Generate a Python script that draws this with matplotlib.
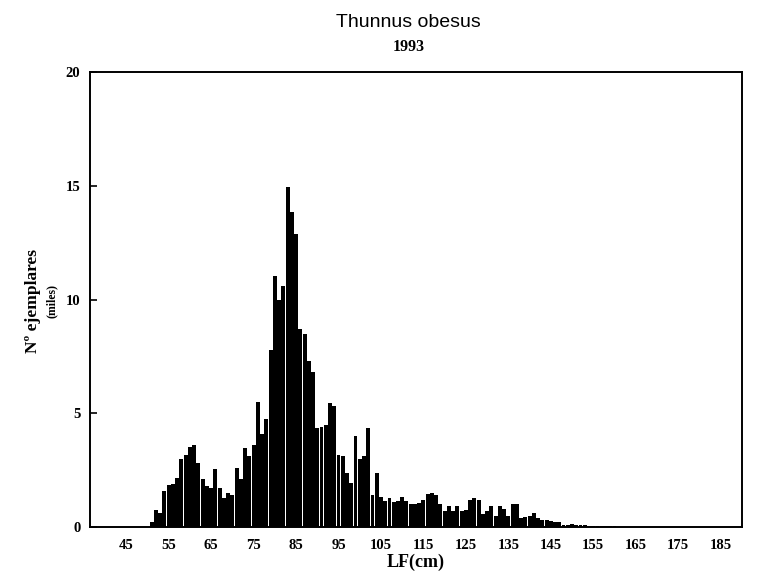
import numpy as np
import matplotlib
matplotlib.use("Agg")
import matplotlib.pyplot as plt

# ================= DATA =================
# length class (cm) and number of fish (thousands)
LENGTHS = list(range(51, 161))
COUNTS = [
    0.2, 0.75, 0.6, 1.6, 1.85, 1.9, 2.15, 3.0, 3.15, 3.5,      # 51-60
    3.6, 2.8, 2.1, 1.8, 1.7, 2.55, 1.7, 1.25, 1.5, 1.4,        # 61-70
    2.6, 2.1, 3.45, 3.1, 3.6, 5.5, 4.1, 4.75, 7.8, 11.05,      # 71-80
    10.0, 10.6, 14.95, 13.85, 12.9, 8.7, 8.5, 7.3, 6.8, 4.35,  # 81-90
    4.4, 4.5, 5.45, 5.3, 3.15, 3.1, 2.35, 1.95, 4.0, 3.0,      # 91-100
    3.1, 4.35, 1.4, 2.35, 1.3, 1.15, 1.25, 1.1, 1.15, 1.3,     # 101-110
    1.15, 1.0, 1.0, 1.05, 1.2, 1.45, 1.5, 1.4, 1.0, 0.7,       # 111-120
    0.9, 0.7, 0.9, 0.7, 0.75, 1.2, 1.25, 1.2, 0.55, 0.7,       # 121-130
    0.9, 0.5, 0.9, 0.8, 0.5, 1.0, 1.0, 0.4, 0.45, 0.5,         # 131-140
    0.6, 0.4, 0.3, 0.3, 0.25, 0.2, 0.2, 0.1, 0.1, 0.12,        # 141-150
    0.08, 0.1, 0.1, 0.06, 0.05, 0.05, 0.03, 0.03, 0.02, 0.02,  # 151-160
]
X_TICKS = list(range(45, 186, 10))
Y_TICKS = [0, 5, 10, 15, 20]

TITLE = "Thunnus obesus"
SUBTITLE = "1993"
SERIF = "Liberation Serif"
SANS = "Liberation Sans"


def main():
    fig = plt.figure(figsize=(7.64, 5.79), dpi=100)
    ax = fig.add_axes([0.118, 0.090, 0.853, 0.785])

    ax.bar(LENGTHS, COUNTS, width=0.92, color="black", linewidth=0)

    ax.set_xlim(36.5, 190)
    ax.set_ylim(0, 20)
    ax.set_xticks(X_TICKS)
    ax.set_yticks(Y_TICKS)
    ax.tick_params(axis="x", length=0, pad=9)
    ax.tick_params(axis="y", direction="in", length=5, width=1.2, pad=7)
    for lab in ax.get_xticklabels() + ax.get_yticklabels():
        lab.set_fontfamily(SERIF)
        lab.set_fontweight("bold")
        lab.set_fontsize(10.5)
    for sp in ax.spines.values():
        sp.set_linewidth(1.4)

    ax.set_xlabel("LF(cm)", fontfamily=SERIF, fontweight="bold",
                  fontsize=13, labelpad=1)

    fig.text(0.043, 0.48, "Nº ejemplares", rotation=90, ha="center",
             va="center", fontfamily=SERIF, fontweight="bold", fontsize=12.5)
    fig.text(0.068, 0.48, "(miles)", rotation=90, ha="center",
             va="center", fontfamily=SERIF, fontweight="bold", fontsize=8.5)

    fig.text(0.535, 0.962, TITLE, ha="center", va="center",
             fontfamily=SANS, fontsize=14)
    fig.text(0.535, 0.918, SUBTITLE, ha="center", va="center",
             fontfamily=SERIF, fontweight="bold", fontsize=11.5)

    fig.savefig("out.png", dpi=100)
    plt.close(fig)


if __name__ == "__main__":
    main()
